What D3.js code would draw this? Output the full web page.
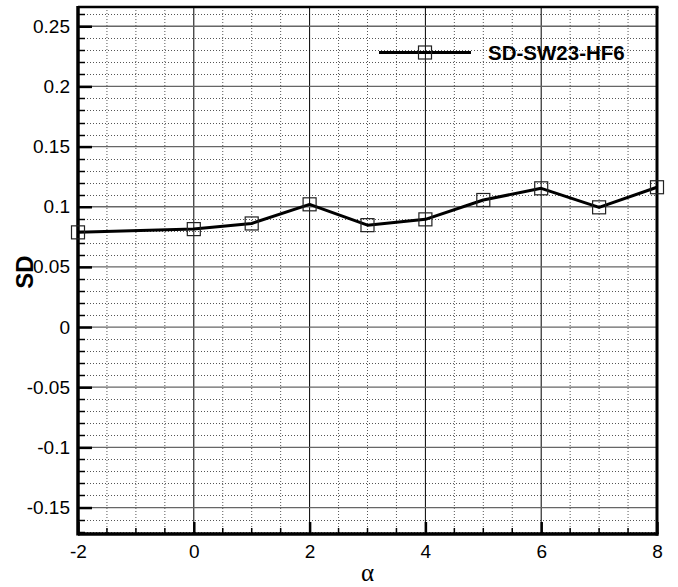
<!DOCTYPE html>
<html>
<head>
<meta charset="utf-8">
<script src="https://cdn.jsdelivr.net/npm/d3@7/dist/d3.min.js"></script>
<style>
  html, body { margin: 0; padding: 0; background: #fff; }
  svg { display: block; }
</style>
</head>
<body>
<svg id="chart" width="678" height="587"></svg>
<script>
// SD against angle of attack for configuration SD-SW23-HF6
const alphaValues = [-2, 0, 1, 2, 3, 4, 5, 6, 7, 8];
const sdValues = [0.0787, 0.0814, 0.0861, 0.102, 0.0847, 0.0895, 0.1056, 0.1153, 0.0995, 0.1162];
const seriesName = "SD-SW23-HF6";
const xTickValues = [-2, 0, 2, 4, 6, 8];
const xTickLabels = ["-2", "0", "2", "4", "6", "8"];
const yTickValues = [-0.15, -0.1, -0.05, 0, 0.05, 0.1, 0.15, 0.2, 0.25];
const yTickLabels = ["-0.15", "-0.1", "-0.05", "0", "0.05", "0.1", "0.15", "0.2", "0.25"];
const xDomain = [-2, 8];
const yDomain = [-0.172, 0.266];

(function () {
const svg = d3.select("#chart");
const pl = 78, pr = 657, pt = 7, pb = 534;

const x = d3.scaleLinear().domain(xDomain).range([pl, pr]);
const y = d3.scaleLinear().domain(yDomain).range([pb, pt]);

const font = "Arial, 'Liberation Sans', Helvetica, sans-serif";

// minor grid (dotted)
const xMinor = d3.range(-2, 8.001, 0.5).filter(v => Math.abs(v % 2) > 1e-9);
const yMinor = d3.range(-17, 27).map(i => i / 100).filter(v => Math.abs(Math.round(v * 100) % 5) !== 0);

const grid = svg.append("g");
grid.selectAll(".vminor").data(xMinor).join("line")
  .attr("x1", d => x(d)).attr("x2", d => x(d))
  .attr("y1", pt).attr("y2", pb)
  .attr("stroke", "#555").attr("stroke-width", 1).attr("stroke-dasharray", "1,2");
grid.selectAll(".hminor").data(yMinor).join("line")
  .attr("x1", pl).attr("x2", pr)
  .attr("y1", d => Math.round(y(d)) + 0.5).attr("y2", d => Math.round(y(d)) + 0.5)
  .attr("stroke", "#555").attr("stroke-width", 1).attr("stroke-dasharray", "1,2");

// major grid (solid)
grid.selectAll(".vmajor").data(xTickValues.slice(1, -1)).join("line")
  .attr("x1", d => x(d)).attr("x2", d => x(d))
  .attr("y1", pt).attr("y2", pb)
  .attr("stroke", "#000").attr("stroke-width", 1);
grid.selectAll(".hmajor").data(yTickValues).join("line")
  .attr("x1", pl).attr("x2", pr)
  .attr("y1", d => y(d)).attr("y2", d => y(d))
  .attr("stroke", "#666").attr("stroke-width", 1.3);

// axes with inward ticks
const xAxis = d3.axisBottom(x).tickValues(xTickValues).tickSize(-12).tickPadding(11)
  .tickFormat((d, i) => xTickLabels[i]);
const gx = svg.append("g").attr("transform", `translate(0,${pb})`).call(xAxis);
gx.select(".domain").remove();
gx.selectAll(".tick line").attr("stroke-width", 2.5);
gx.selectAll(".tick text").attr("font-family", font).attr("font-size", 19).attr("fill", "#000");
gx.selectAll(".minor").data(xMinor).join("line")
  .attr("x1", d => x(d)).attr("x2", d => x(d))
  .attr("y1", 0).attr("y2", -6).attr("stroke", "#000").attr("stroke-width", 1.5);

const yAxis = d3.axisLeft(y).tickValues(yTickValues).tickSize(-14).tickPadding(8)
  .tickFormat((d, i) => yTickLabels[i]);
const gy = svg.append("g").attr("transform", `translate(${pl},0)`).call(yAxis);
gy.select(".domain").remove();
gy.selectAll(".tick line").attr("stroke-width", 2.5);
gy.selectAll(".tick text").attr("font-family", font).attr("font-size", 19).attr("fill", "#000");
gy.selectAll(".minor").data(yMinor).join("line")
  .attr("x1", 0).attr("x2", 7)
  .attr("y1", d => Math.round(y(d)) + 0.5).attr("y2", d => Math.round(y(d)) + 0.5)
  .attr("stroke", "#000").attr("stroke-width", 1.5);

// frame
svg.append("line").attr("x1", pl).attr("x2", pr + 1.5).attr("y1", pb).attr("y2", pb)
  .attr("stroke", "#000").attr("stroke-width", 3.5);
svg.append("line").attr("x1", pl).attr("x2", pl).attr("y1", pt - 1).attr("y2", pb + 1.5)
  .attr("stroke", "#000").attr("stroke-width", 3.5);
svg.append("line").attr("x1", pl).attr("x2", pr + 1.5).attr("y1", pt).attr("y2", pt)
  .attr("stroke", "#000").attr("stroke-width", 2.5);
svg.append("line").attr("x1", pr).attr("x2", pr).attr("y1", pt).attr("y2", pb + 1.5)
  .attr("stroke", "#000").attr("stroke-width", 3);

// data line and square markers
const line = d3.line().x((d, i) => x(alphaValues[i])).y(d => y(d));
svg.append("path").datum(sdValues).attr("d", line)
  .attr("fill", "none").attr("stroke", "#000").attr("stroke-width", 3).attr("stroke-linejoin", "round");
const ms = 13;
svg.selectAll(".marker").data(sdValues).join("rect")
  .attr("x", (d, i) => x(alphaValues[i]) - ms / 2)
  .attr("y", d => y(d) - ms / 2)
  .attr("width", ms).attr("height", ms)
  .attr("fill", "none").attr("stroke", "#222").attr("stroke-width", 1.2);

// legend
const lgY = 52.5;
svg.append("line").attr("x1", 379).attr("x2", 471).attr("y1", lgY).attr("y2", lgY)
  .attr("stroke", "#000").attr("stroke-width", 3);
svg.append("rect").attr("x", 425 - ms / 2).attr("y", lgY - ms / 2).attr("width", ms).attr("height", ms)
  .attr("fill", "none").attr("stroke", "#222").attr("stroke-width", 1.2);
svg.append("text").attr("x", 488).attr("y", lgY).attr("dy", "0.36em")
  .attr("font-family", font).attr("font-size", 20.5).attr("font-weight", "bold")
  .text(seriesName);

// axis titles
svg.append("text").attr("x", (pl + pr) / 2).attr("y", 573).attr("dy", "0.3em")
  .attr("text-anchor", "middle").attr("font-family", "'Times New Roman', 'Liberation Serif', serif")
  .attr("font-size", 25).text("α");
svg.append("text").attr("transform", "translate(24,272) rotate(-90)")
  .attr("text-anchor", "middle").attr("dy", "0.36em")
  .attr("font-family", font).attr("font-size", 24).attr("font-weight", "bold").text("SD");
})();
</script>
</body>
</html>
